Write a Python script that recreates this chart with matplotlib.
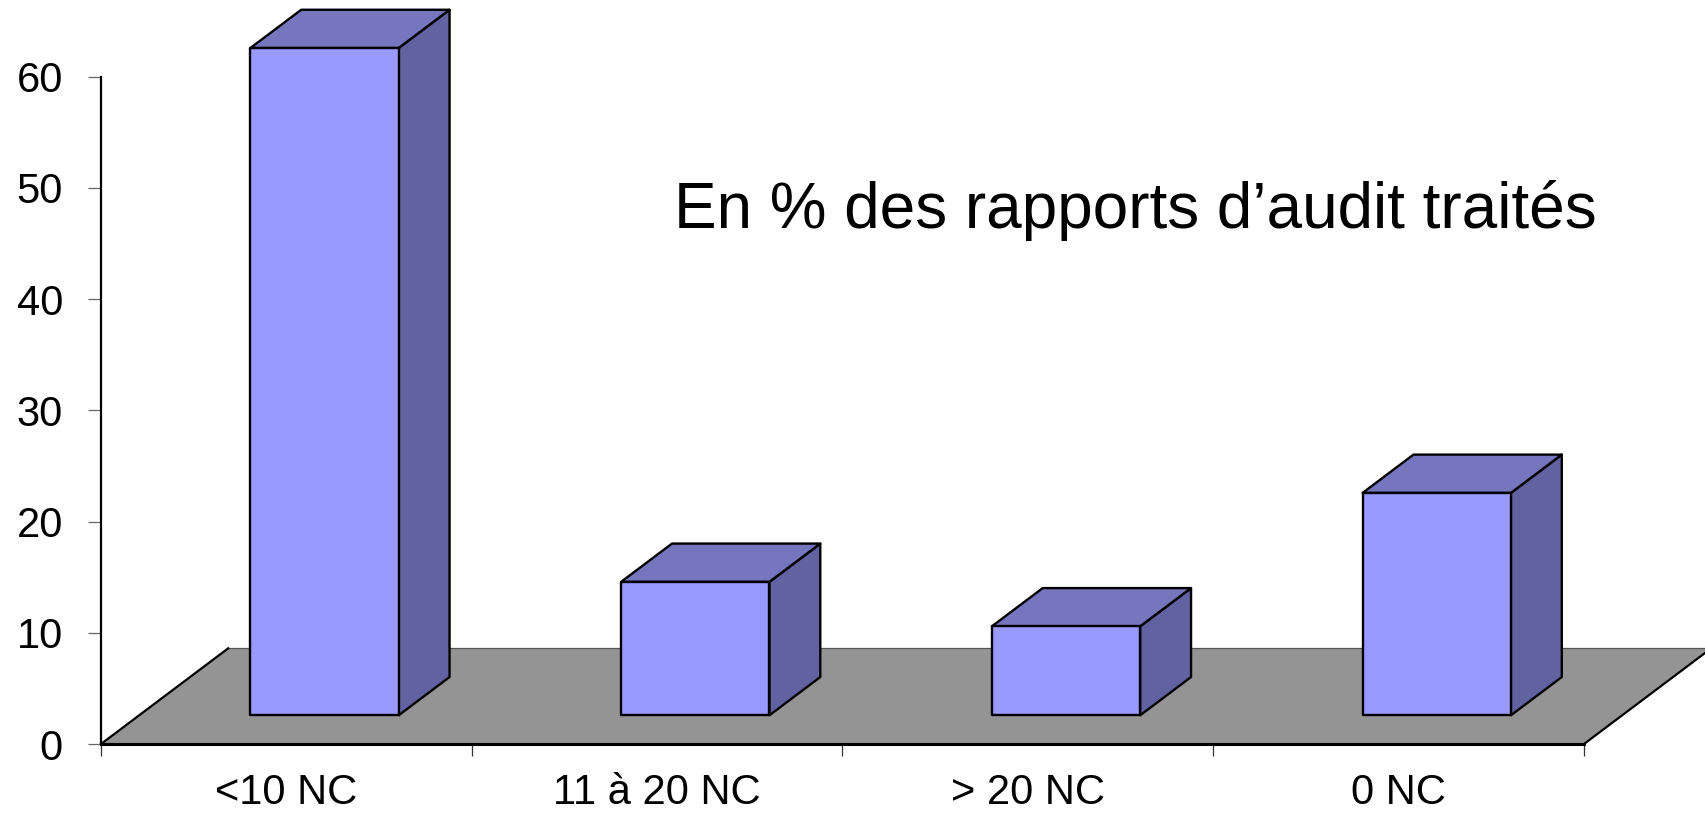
import matplotlib
matplotlib.use("Agg")
import matplotlib.pyplot as plt
from matplotlib.patches import Polygon

plt.rcParams['font.family'] = ['Liberation Sans', 'DejaVu Sans']

# data
categories = ["<10 NC", "11 à 20 NC", "> 20 NC", "0 NC"]
values = [60, 12, 8, 20]
title_text = "En % des rapports d\u2019audit traités"

# oblique "3D" look (Excel style)
DX, DY = 0.343, 8.6        # depth offset of the floor in data units
Z0, Z1 = 0.3, 0.7          # bar depth range (fraction of floor depth)
B0, B1 = 0.3, 0.7          # bar width range within category
FRONT, TOP, SIDE = "#9999FF", "#7676BE", "#6262A0"
FLOOR = "#949494"

fig = plt.figure(figsize=(17.06, 8.14), dpi=100)
ax = fig.add_axes([101 / 1706, 70 / 814, 1483 / 1706, 667.3 / 814])
ax.set_xlim(0, len(categories))
ax.set_ylim(0, 60)


def proj(x, v, z):
    return (x + z * DX, v + z * DY)


n = len(categories)
# floor
ax.add_patch(Polygon([proj(0, 0, 0), proj(n, 0, 0), proj(n, 0, 1), proj(0, 0, 1)],
                     closed=True, facecolor=FLOOR, edgecolor="none", clip_on=False, zorder=1))
ax.plot(*zip(proj(0, 0, 1), proj(n, 0, 1)), color="#555555", lw=0.9, clip_on=False, zorder=1.5)
ax.plot(*zip(proj(0, 0, 0), proj(0, 0, 1)), color="black", lw=1.6, clip_on=False, zorder=1.5)
ax.plot(*zip(proj(n, 0, 0), proj(n, 0, 1)), color="black", lw=1.6, clip_on=False, zorder=1.5)

# bars
for i, v in enumerate(values):
    xl, xr = i + B0, i + B1
    front = [proj(xl, 0, Z0), proj(xr, 0, Z0), proj(xr, v, Z0), proj(xl, v, Z0)]
    top = [proj(xl, v, Z0), proj(xr, v, Z0), proj(xr, v, Z1), proj(xl, v, Z1)]
    side = [proj(xr, 0, Z0), proj(xr, 0, Z1), proj(xr, v, Z1), proj(xr, v, Z0)]
    for pts, col in [(side, SIDE), (top, TOP), (front, FRONT)]:
        ax.add_patch(Polygon(pts, closed=True, facecolor=col, edgecolor="black",
                             lw=1.7, joinstyle="round", clip_on=False, zorder=2))

# axes styling
for s in ["top", "right"]:
    ax.spines[s].set_visible(False)
ax.spines["left"].set_linewidth(1.6)
ax.spines["bottom"].set_linewidth(2.2)
ax.spines["bottom"].set_zorder(3)

ax.set_yticks(range(0, 61, 10))
ax.tick_params(axis="y", direction="out", length=9.4, width=0.9, color="#666666",
               pad=18, labelsize=30)
ax.set_xticks(range(0, n + 1))
ax.set_xticklabels([])
ax.tick_params(axis="x", which="major", direction="out", length=8.6, width=0.9,
               color="#333333")
ax.set_xticks([i + 0.5 for i in range(n)], minor=True)
ax.set_xticklabels(categories, minor=True)
ax.tick_params(axis="x", which="minor", length=0, pad=21, labelsize=30)

fig.text(674 / 1706, (814 - 228.3) / 814, title_text, fontsize=46,
         ha="left", va="baseline")

fig.savefig("out.png", dpi=100)
